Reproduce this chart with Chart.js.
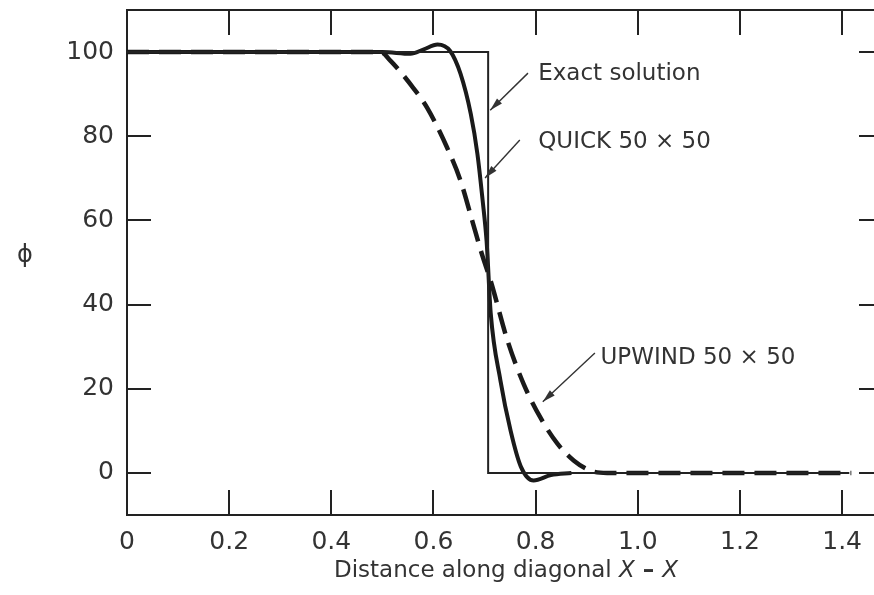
<!DOCTYPE html>
<html>
<head>
<meta charset="utf-8">
<script src="https://cdn.jsdelivr.net/npm/chart.js@4/dist/chart.umd.min.js"></script>
<style>
html, body { margin: 0; padding: 0; background: #fff; overflow: hidden; }
</style>
</head>
<body>
<canvas id="grafico" width="890" height="595"></canvas>
<script>
// ticks
var xTicks = [0, 0.2, 0.4, 0.6, 0.8, 1.0, 1.2, 1.4];
var xTickLabels = ['0', '0.2', '0.4', '0.6', '0.8', '1.0', '1.2', '1.4'];
var yTicks = [0, 20, 40, 60, 80, 100];
var yTickLabels = ['0', '20', '40', '60', '80', '100'];

// exact solution (step)
var exactX = [0, 0.707, 0.707, 1.414];
var exactY = [100, 100, 0, 0];

// QUICK 50 x 50
var quickX = [0, 0.50, 0.555, 0.58, 0.608, 0.633, 0.653, 0.673, 0.686, 0.696, 0.704, 0.712, 0.731, 0.751, 0.771, 0.796, 0.83, 0.87];
var quickY = [100, 100, 99.6, 100.6, 101.8, 100.2, 94.8, 85.3, 75.8, 65, 55, 38, 22, 10, 1.5, -1.8, -0.5, 0];

// UPWIND 50 x 50
var upwindX = [0, 0.496, 0.516, 0.561, 0.588, 0.627, 0.653, 0.678, 0.696, 0.712, 0.745, 0.777, 0.81, 0.843, 0.875, 0.908, 0.94, 1.418];
var upwindY = [100, 100, 97.9, 91.4, 86.7, 77.2, 69.4, 59, 51.5, 45.6, 31.4, 21, 13, 6.9, 2.9, 0.5, 0, 0];

// notas (data coords)
var notas = [
    { texto: 'Exact solution', x: 0.805, y: 93.3, desdeX: 0.785, desdeY: 95.0, hastaX: 0.711, hastaY: 86.2 },
    { texto: 'QUICK 50 \u00d7 50', x: 0.805, y: 77.3, desdeX: 0.769, desdeY: 79.1, hastaX: 0.701, hastaY: 70.1 },
    { texto: 'UPWIND 50 \u00d7 50', x: 0.927, y: 26.0, desdeX: 0.916, desdeY: 28.5, hastaX: 0.814, hastaY: 16.9 }
];

function puntos(xs, ys) {
    var r = [];
    for (var i = 0; i < xs.length; i++) {
        r.push({ x: xs[i], y: ys[i] });
    }
    return r;
}

function flecha(ctx, x1, y1, x2, y2) {
    ctx.beginPath();
    ctx.moveTo(x1, y1);
    ctx.lineTo(x2, y2);
    ctx.stroke();
    var ang = Math.atan2(y2 - y1, x2 - x1), L = 13, W = 3.5;
    var bx = x2 - L * Math.cos(ang), by = y2 - L * Math.sin(ang);
    ctx.beginPath();
    ctx.moveTo(x2, y2);
    ctx.lineTo(bx + W * Math.sin(ang), by - W * Math.cos(ang));
    ctx.lineTo(bx - W * Math.sin(ang), by + W * Math.cos(ang));
    ctx.closePath();
    ctx.fill();
}

var marco = {
    id: 'marco',
    beforeDatasetsDraw: function (chart) {
        var ctx = chart.ctx, a = chart.chartArea;
        var sx = chart.scales.x, sy = chart.scales.y;
        ctx.save();
        ctx.strokeStyle = '#222';
        ctx.lineWidth = 2;
        ctx.strokeRect(a.left, a.top, a.right - a.left, a.bottom - a.top);
        ctx.beginPath();
        xTicks.forEach(function (v) {
            var p = Math.round(sx.getPixelForValue(v));
            ctx.moveTo(p, a.bottom); ctx.lineTo(p, a.bottom - 25);
            ctx.moveTo(p, a.top); ctx.lineTo(p, a.top + 25);
        });
        yTicks.forEach(function (v) {
            var p = Math.round(sy.getPixelForValue(v));
            ctx.moveTo(a.left, p); ctx.lineTo(a.left + 24, p);
            ctx.moveTo(a.right, p); ctx.lineTo(a.right - 24, p);
        });
        ctx.stroke();
        ctx.restore();
    },
    afterDatasetsDraw: function (chart) {
        var ctx = chart.ctx;
        var sx = chart.scales.x, sy = chart.scales.y;
        ctx.save();
        // flechas y notas
        ctx.strokeStyle = '#333';
        ctx.fillStyle = '#333';
        ctx.lineWidth = 1.4;
        ctx.font = "23px 'DejaVu Sans'";
        ctx.textBaseline = 'alphabetic';
        notas.forEach(function (n) {
            flecha(ctx, sx.getPixelForValue(n.desdeX), sy.getPixelForValue(n.desdeY),
                sx.getPixelForValue(n.hastaX), sy.getPixelForValue(n.hastaY));
            ctx.fillText(n.texto, sx.getPixelForValue(n.x), sy.getPixelForValue(n.y));
        });

        // titulo eje x con X en cursiva
        var partes = [
            { t: 'Distance along diagonal ', f: "23px 'DejaVu Sans'" },
            { t: 'X', f: "italic 23px 'DejaVu Sans'" },
            { t: ' \u2013 ', f: "bold 23px 'DejaVu Sans'" },
            { t: 'X', f: "italic 23px 'DejaVu Sans'" }
        ];
        var total = 0;
        partes.forEach(function (p) { ctx.font = p.f; total += ctx.measureText(p.t).width; });
        var cx = 506 - total / 2;
        partes.forEach(function (p) {
            ctx.font = p.f;
            ctx.fillText(p.t, cx, 577);
            cx += ctx.measureText(p.t).width;
        });

        // titulo eje y
        ctx.font = "24px 'DejaVu Sans'";
        ctx.textAlign = 'center';
        ctx.fillText('\u03d5', 25, 262);
        ctx.restore();
    }
};

Chart.defaults.font.family = "'DejaVu Sans'";
Chart.defaults.color = '#333';

var ctx = document.getElementById('grafico').getContext('2d');
var chart = new Chart(ctx, {
    type: 'line',
    data: {
        datasets: [
            {
                label: 'Exact solution',
                data: puntos(exactX, exactY),
                borderColor: '#222',
                borderWidth: 2,
                pointRadius: 0,
                tension: 0
            },
            {
                label: 'UPWIND 50 x 50',
                data: puntos(upwindX, upwindY),
                borderColor: '#1a1a1a',
                borderWidth: 4.5,
                borderDash: [22, 10],
                borderCapStyle: 'butt',
                pointRadius: 0,
                cubicInterpolationMode: 'monotone'
            },
            {
                label: 'QUICK 50 x 50',
                data: puntos(quickX, quickY),
                borderColor: '#1a1a1a',
                borderWidth: 4,
                pointRadius: 0,
                cubicInterpolationMode: 'monotone'
            }
        ]
    },
    options: {
        responsive: false,
        animation: false,
        devicePixelRatio: 1,
        layout: { padding: { left: 0, top: 10, right: 7, bottom: 0 } },
        plugins: {
            legend: { display: false },
            tooltip: { enabled: false }
        },
        scales: {
            x: {
                type: 'linear',
                min: 0,
                max: 1.48,
                afterBuildTicks: function (s) { s.ticks = xTicks.map(function (v) { return { value: v }; }); },
                afterFit: function (s) { s.height = 80; s.paddingLeft = 0; s.paddingRight = 0; },
                grid: { display: false, drawTicks: false },
                border: { display: true, color: '#222', width: 2 },
                ticks: {
                    padding: 12,
                    font: { size: 25 },
                    color: '#333',
                    maxRotation: 0,
                    callback: function (v, i) { return xTickLabels[i]; }
                }
            },
            y: {
                type: 'linear',
                min: -10,
                max: 110,
                afterBuildTicks: function (s) { s.ticks = yTicks.map(function (v) { return { value: v }; }); },
                afterFit: function (s) { s.width = 127; s.paddingTop = 0; s.paddingBottom = 0; },
                grid: { display: false, drawTicks: false },
                border: { display: true, color: '#222', width: 2 },
                ticks: {
                    padding: 13,
                    font: { size: 25 },
                    color: '#333',
                    callback: function (v, i) { return yTickLabels[i]; }
                }
            }
        }
    },
    plugins: [marco]
});
</script>
</body>
</html>
